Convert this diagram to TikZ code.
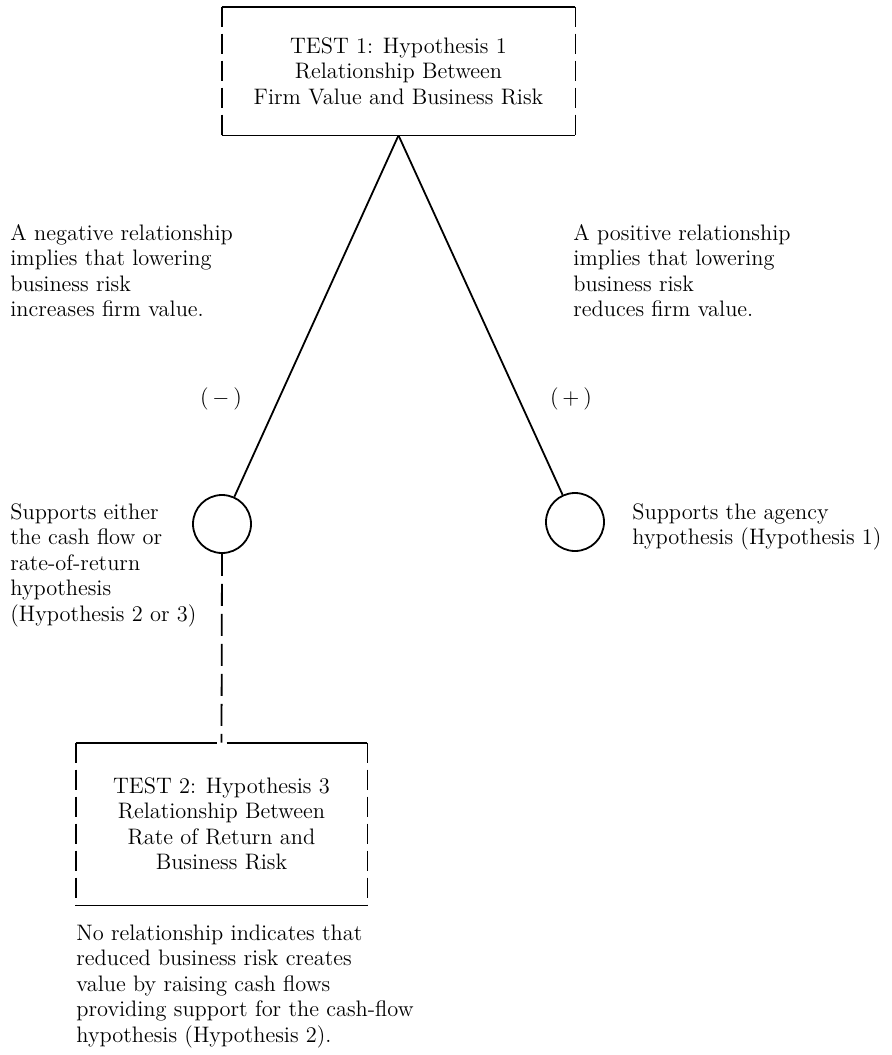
\documentclass[tikz,border=0pt]{standalone}
\begin{document}
\begin{tikzpicture}[x=0.5pt,y=-0.5pt,
  txt/.style={font=\fontsize{11.2}{12.75}\selectfont, inner sep=0pt, align=left, anchor=base west},
  ctxt/.style={font=\fontsize{11.2}{12.75}\selectfont, inner sep=0pt, align=center, anchor=base},
  boxarea/.style={rectangle, inner sep=0pt, font=\fontsize{11.2}{12.75}\selectfont, align=center},
  solidline/.style={line width=0.9pt},
  sidedash/.style={line width=0.9pt, dash pattern=on 10pt off 3.5pt},
  conndash/.style={line width=0.9pt, dash pattern=on 11pt off 4pt},
  hub/.style={circle, draw, line width=0.9pt, minimum size=29pt, inner sep=0pt}
]
\useasboundingbox (0,0) rectangle (891,1055);

% boxes
\node[boxarea, minimum width=176.5pt, minimum height=64pt] (b1) at (398.5,71)
  {TEST 1: Hypothesis 1\\Relationship Between\\Firm Value and Business Risk};
\node[boxarea, minimum width=145.5pt, minimum height=81pt] (b2) at (221.5,824)
  {TEST 2: Hypothesis 3\\Relationship Between\\Rate of Return and\\Business Risk};

\draw[solidline] (b1.north west) -- (b1.north east);
\draw[solidline] (b1.south west) -- (b1.south east);
\draw[sidedash] (b1.north west) -- (b1.south west);
\draw[sidedash] (b1.north east) -- (b1.south east);

\draw[solidline] (b2.north west) -- ([xshift=-2.5pt]b2.north);
\draw[solidline] ([xshift=2.5pt]b2.north) -- (b2.north east);
\draw[solidline] (b2.south west) -- (b2.south east);
\draw[sidedash] (b2.north west) -- (b2.south west);
\draw[sidedash] (b2.north east) -- (b2.south east);

% circles
\node[hub] (c1) at (222,524) {};
\node[hub] (c2) at (575,522) {};

% connectors
\draw[solidline] (b1.south) -- (c1);
\draw[solidline] (b1.south) -- (c2);
\draw[conndash] (c1.south) -- (b2.north);

% labels (anchored at the baseline of their last line)
\node[txt] (l1) at (10,316.5) {A negative relationship\\implies that lowering\\business risk\\increases firm value.};
\node[txt] (r1) at (573,316.5) {A positive relationship\\implies that lowering\\business risk\\reduces firm value.};
\node[ctxt] (mneg) at (221,404) {(\,$-$\,)};
\node[ctxt] (mpos) at (571,404) {(\,$+$\,)};
\node[txt] (l2) at (10,621) {Supports either\\the cash flow or\\rate-of-return\\hypothesis\\(Hypothesis 2 or 3)};
\node[txt] (r2) at (632,544.5) {Supports the agency\\hypothesis (Hypothesis 1)};
\node[txt] (l3) at (76,1042) {No relationship indicates that\\reduced business risk creates\\value by raising cash flows\\providing support for the cash-flow\\hypothesis (Hypothesis 2).};
\end{tikzpicture}
\end{document}
